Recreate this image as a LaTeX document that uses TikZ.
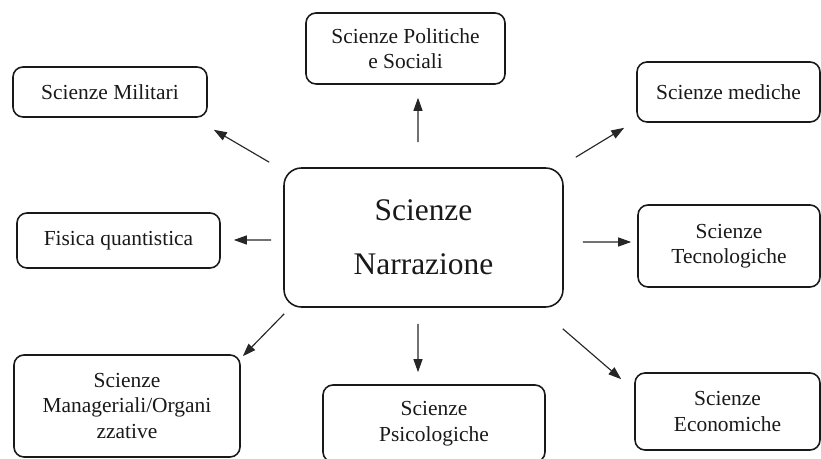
\documentclass[tikz,border=0pt]{standalone}
\usepackage{fontspec}
\setmainfont{Liberation Serif}
\usetikzlibrary{arrows.meta}
\begin{document}
\begin{tikzpicture}[scale=1,
    box/.style={draw=black!90, line width=0.9pt, rounded corners=0.2cm, align=center, inner sep=0pt, text=black!90, font=\fontsize{12.2}{14.5}\selectfont},
    arr/.style={-{Triangle[length=2.6mm,width=1.8mm]}, line width=0.65pt, draw=black!85}]
    % Cornice
    \useasboundingbox (0,0) rectangle (16.42,9.18);
    
    % Nodo centrale
    \node[box, minimum width=5.58cm, minimum height=2.78cm, rounded corners=0.35cm, font=\fontsize{17.9}{31}\selectfont] (nar) at (8.47,4.43) {Scienze\\Narrazione};
    
    % Riquadri intorno
    \node[box, minimum width=3.88cm, minimum height=1cm] (mil) at (2.20,7.34) {Scienze Militari};
    \node[box, minimum width=3.98cm, minimum height=1.42cm] (pol) at (8.11,8.21) {Scienze Politiche\\e Sociali};
    \node[box, minimum width=3.66cm, minimum height=1.2cm] (med) at (14.57,7.34) {Scienze mediche};
    \node[box, minimum width=4.06cm, minimum height=1.1cm] (fis) at (2.37,4.37) {Fisica quantistica};
    \node[box, minimum width=3.64cm, minimum height=1.64cm] (tec) at (14.58,4.26) {Scienze\\Tecnologiche};
    \node[box, minimum width=4.52cm, minimum height=2.04cm] (man) at (2.54,1.06) {Scienze\\Manageriali/Organi\\zzative};
    \node[box, minimum width=4.44cm, minimum height=1.54cm] (psi) at (8.68,0.71) {Scienze\\Psicologiche};
    \node[box, minimum width=3.70cm, minimum height=1.54cm] (eco) at (14.55,0.95) {Scienze\\Economiche};
    
    % Frecce
    \draw[arr] ([shift={(-0.28,0.10)}]nar.north west) -- ([shift={(0.12,-0.24)}]mil.south east);
    \draw[arr] ([shift={(-0.11,0.50)}]nar.north) -- ([shift={(0.25,-0.26)}]pol.south);
    \draw[arr] ([shift={(0.24,0.20)}]nar.north east) -- ([shift={(-0.24,-0.10)}]med.south west);
    \draw[arr] ([shift={(-0.24,-0.05)}]nar.west) -- ([shift={(0.26,0.01)}]fis.east);
    \draw[arr] ([shift={(0.38,-0.09)}]nar.east) -- ([shift={(-0.12,0.08)}]tec.west);
    \draw[arr] ([shift={(0.02,-0.12)}]nar.south west) -- ([shift={(0.04,-0.04)}]man.north east);
    \draw[arr] ([shift={(-0.11,-0.32)}]nar.south) -- ([shift={(-0.32,0.24)}]psi.north);
    \draw[arr] ([shift={(-0.02,-0.42)}]nar.south east) -- ([shift={(-0.26,-0.14)}]eco.north west);
\end{tikzpicture}
\end{document}
